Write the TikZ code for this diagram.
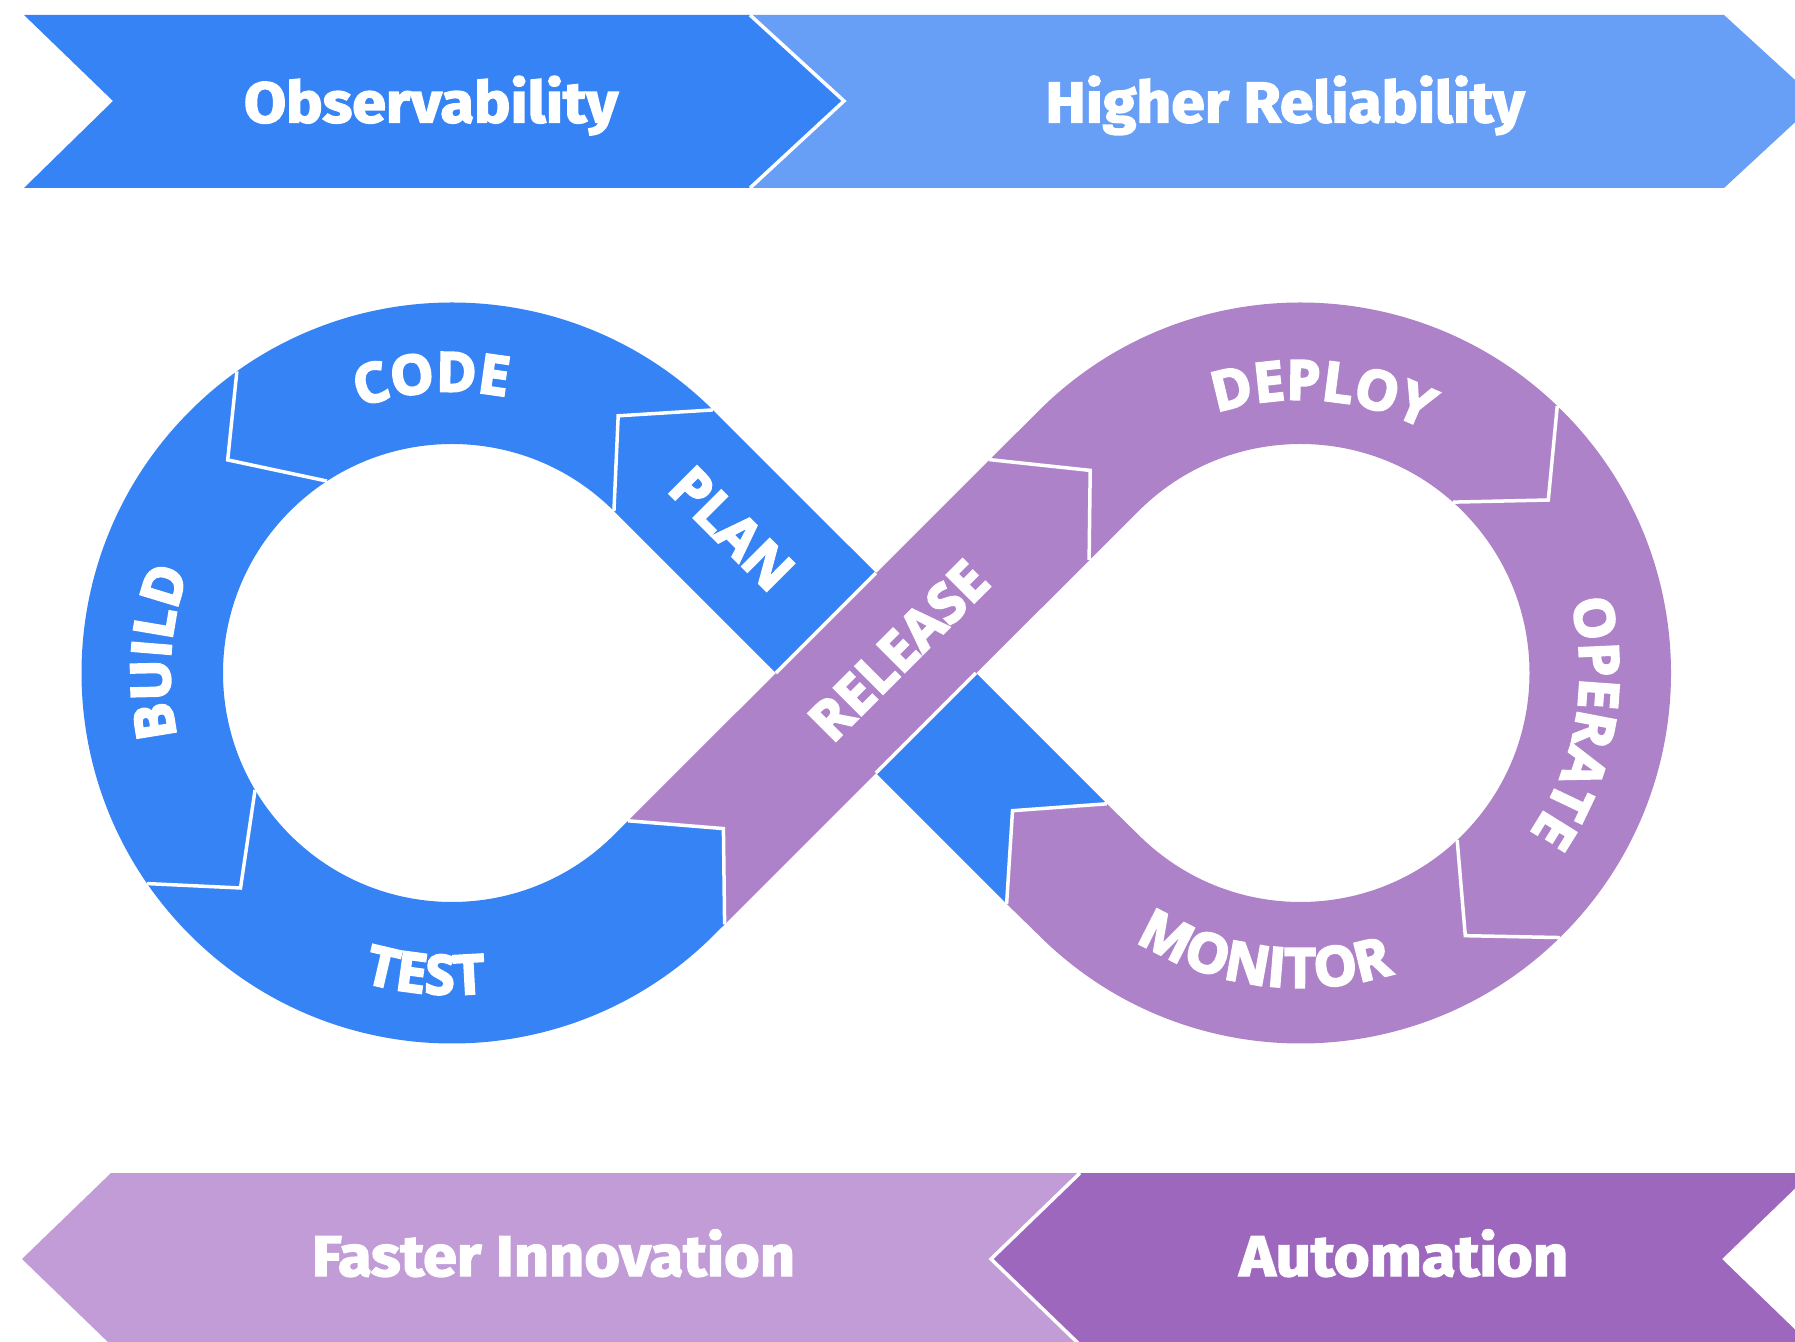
\documentclass[tikz,border=0pt]{standalone}
\usepackage{fontspec}
\setmainfont{Fira Sans}
\newfontfamily\bannerfont{Fira Sans}[BoldFeatures={FakeBold=2.5}]
\newfontfamily\stagefont{Open Sans}[BoldFeatures={FakeBold=4}]
\usetikzlibrary{calc,decorations.text}

\definecolor{devblue}{HTML}{3583F5}
\definecolor{skyblue}{HTML}{679EF6}
\definecolor{loopviolet}{HTML}{AE82C8}
\definecolor{lilac}{HTML}{C19CD6}
\definecolor{grape}{HTML}{9D67BD}

% lettering of the eight stages of the loop
\newcommand\stagelbl{\stagefont\bfseries\fontsize{54.6}{60}\selectfont}
% banner caption squeezed to a given width
\newcommand\bannertext[2]{\resizebox{#1}{\height}{\bannerfont\bfseries\fontsize{57.3}{60}\selectfont #2}}

\tikzset{
  divider/.style={draw=white, line width=3.5, line join=miter},
  bannerlabel/.style={anchor=base, inner sep=0pt, text=white},
  stagetext/.style={decorate, decoration={text along path, text={|\stagelbl|#1},
      text align=center, text color=white}}
}

\begin{document}
\begin{tikzpicture}[x=1pt, y=1pt]
\useasboundingbox (0,0) rectangle (1795,1341);
\clip (0,0) rectangle (1795,1341);
\fill[white] (0,0) rectangle (1795,1341);

% ---------- top banners ----------
\fill[skyblue] (750,1326) -- (1724,1326) -- (1818,1240) -- (1724,1153)
  -- (750,1153) -- (844,1240) -- cycle;
\fill[devblue] (24,1326) -- (750,1326) -- (844,1240) -- (750,1153)
  -- (24,1153) -- (113,1240) -- cycle;
\draw[divider] (750,1326) -- (844,1240) -- (750,1153);
\node[bannerlabel] (obs) at (431,1218.5) {\bannertext{374pt}{Observability}};
\node[bannerlabel] (rel) at (1285,1218.7) {\bannertext{479pt}{Higher Reliability}};

% ---------- bottom banners ----------
\fill[lilac] (22,82) -- (111,168) -- (1100,168) -- (1100,-4) -- (111,-4) -- cycle;
\fill[grape] (991,82) -- (1080,168) -- (1811,168) -- (1722,82) -- (1811,-4)
  -- (1080,-4) -- cycle;
\draw[divider] (1080,168) -- (991,82) -- (1080,-4);
\node[bannerlabel] (fast) at (553.5,65) {\bannertext{483pt}{Faster Innovation}};
\node[bannerlabel] (auto) at (1403.8,65) {\bannertext{329pt}{Automation}};

% ---------- infinity loop ----------
\coordinate (L) at (452,668);
\coordinate (R) at (1300.5,668);

% blue half: left ring, PLAN diagonal, tail of TEST
\fill[devblue]
  ($(L)+(45:370.5)$) arc[start angle=45, end angle=315, radius=370.5]
    -- ($(L)+(315:229)$) arc[start angle=315, end angle=45, radius=229] -- cycle
  ($(L)+(45:229)$) -- (1006.6,437.2) -- (1012.5,530.3) -- (1106.8,537.2)
    -- ($(L)+(45:370.5)$) -- cycle
  ($(L)+(315:229)$) -- ($(L)+(315:370.5)$) -- (724.6,416.6) -- (723.4,512.4)
    -- (628,520.2) -- cycle;

% violet half: right ring, tail of MONITOR, RELEASE diagonal on top
\fill[loopviolet]
  ($(R)+(135:370.5)$) arc[start angle=135, end angle=-135, radius=370.5]
    -- ($(R)+(-135:229)$) arc[start angle=-135, end angle=135, radius=229] -- cycle
  ($(R)+(225:370.5)$) -- ($(R)+(225:229)$) -- (1106.8,537.2) -- (1012.5,530.3)
    -- (1006.6,437.2) -- cycle
  (628,520.2) -- (723.4,512.4) -- (724.6,416.6) -- ($(R)+(135:229)$)
    -- ($(R)+(135:370.5)$) -- cycle;

% edges of RELEASE where it passes over PLAN
\draw[divider] (775.86,668) -- (875.91,768.05);
\draw[divider] (875.91,567.95) -- (975.96,668);

% stage dividers (arrow-shaped)
\draw[divider] ($(L)+(45.24:370.5)$) -- ($(L)+(57.13:306.2)$) -- ($(L)+(45:229)$);
\draw[divider] ($(L)+(125.5:370.5)$) -- ($(L)+(136.47:309.4)$) -- ($(L)+(123.07:229)$);
\draw[divider] ($(L)+(210.68:229)$) -- ($(L)+(225.47:301.6)$) -- ($(L)+(214.64:370.5)$);
\draw[divider] (628,520.2) -- (723.4,512.4) -- (724.6,416.6);
\draw[divider] (989.2,881.4) -- (1090.2,870.6) -- (1089.1,781.1);
\draw[divider] ($(R)+(46.13:370.5)$) -- ($(R)+(34.92:302.2)$) -- ($(R)+(48.26:229)$);
\draw[divider] ($(R)+(-46.83:229)$) -- ($(R)+(-57.9:310.1)$) -- ($(R)+(-45.57:370.5)$);
\draw[divider] (1106.8,537.2) -- (1012.5,530.3) -- (1006.6,437.2);

% stage names
\path[stagetext=CODE] ($(L)+(139:281.5)$) arc[start angle=139, end angle=49, radius=281.5];
\path[stagetext=BUILD] ($(L)+(221:282)$) arc[start angle=221, end angle=131, radius=282];
\path[stagetext=TEST] ($(L)+(220:321.5)$) arc[start angle=220, end angle=310, radius=321.5];
\path[stagetext=PLAN] (618,898.6) -- (818,698.6);
\path[stagetext=RELEASE] (762.4,526.6) -- (1062.4,826.6);
\path[stagetext=DEPLOY] ($(R)+(130.5:273.5)$) arc[start angle=130.5, end angle=40.5, radius=273.5];
\path[stagetext=OPERATE] ($(R)+(35:279.5)$) arc[start angle=35, end angle=-55, radius=279.5];
\path[stagetext=MONITOR] ($(R)+(217.8:314.5)$) arc[start angle=217.8, end angle=307.8, radius=314.5];
\end{tikzpicture}
\end{document}
